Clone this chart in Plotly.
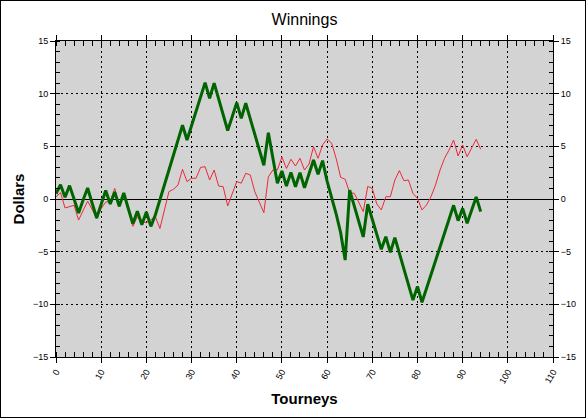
import plotly.graph_objects as go

# Winnings per tourney
tourneys = list(range(95))

green_series = [
    0.5, 1.36, 0.16, 1.27, 0.0, -1.33, -0.1, 1.04, -0.4, -1.8,
    -0.5, 0.8, -0.47, 0.66, -0.7, 0.57, -0.9, -2.34, -1.17, -2.44,
    -1.23, -2.6, -1.5, -0.1, 1.3, 2.7, 4.1, 5.6, 7.0, 5.6,
    7.0, 8.4, 9.7, 11.05, 9.56, 11.0, 9.5, 8.0, 6.5, 7.8,
    9.15, 7.66, 9.09, 7.6, 6.1, 4.6, 3.2, 6.3, 3.9, 1.5,
    2.66, 1.23, 2.53, 1.17, 2.5, 1.07, 2.4, 3.7, 2.34, 3.64,
    1.7, 0.2, -1.4, -3.2, -5.8, 0.85, -0.6, -2.1, -3.6, -0.5,
    -1.9, -3.4, -4.78, -3.58, -5.07, -3.67, -5.1, -6.6, -8.1, -9.6,
    -8.3, -9.8, -8.5, -7.2, -5.9, -4.6, -3.2, -1.9, -0.6, -2.06,
    -0.89, -2.3, -1.0, 0.2, -1.2,
]

red_series = [
    0.2, 0.6, -0.85, -0.75, -0.6, -2.0, -1.1, -0.2, -1.0, -1.84,
    -0.9, -0.3, -0.2, 1.0, -0.73, 0.38, -1.1, -2.6, -1.68, -2.15,
    -2.25, -2.0, -1.68, -2.8, -1.0, 0.7, 0.92, 1.33, 2.82, 1.65,
    1.97, 1.97, 3.0, 3.07, 1.8, 2.75, 1.23, 1.17, -0.66, 0.5,
    1.65, 1.5, 2.44, 2.28, 0.7, -0.3, -1.3, 2.1, 2.75, 2.75,
    4.0, 2.9, 3.77, 3.13, 3.86, 2.75, 3.32, 4.97, 3.86, 5.13,
    5.7, 5.3, 3.86, 2.06, 1.87, 0.6, 0.54, -0.3, -1.2, 1.2,
    1.0, -0.47, -1.04, 0.22, 0.22, 1.8, 2.69, 1.74, 1.8, 0.54,
    0.06, -1.04, -0.57, 0.22, 1.33, 2.75, 3.86, 4.65, 5.6, 4.08,
    5.13, 4.02, 4.8, 5.67, 4.72,
]

x_ticks = list(range(0, 111, 10))
y_ticks = list(range(-15, 16, 5))

FONT = "Liberation Sans, Arial, sans-serif"
W, H = 586, 418
M = dict(l=56, r=33, t=41, b=61)

fig = go.Figure()
fig.add_trace(go.Scatter(x=tourneys, y=red_series, mode="lines",
                         line=dict(color="#ee2838", width=1), showlegend=False))
fig.add_trace(go.Scatter(x=tourneys, y=green_series, mode="lines",
                         line=dict(color="#006400", width=3), showlegend=False))
# invisible trace so the right axis gets drawn
fig.add_trace(go.Scatter(x=[None], y=[None], yaxis="y2", showlegend=False, hoverinfo="skip"))

axis_common = dict(
    showline=True, linecolor="black", linewidth=1, automargin=False,
    ticks="outside", ticklen=5, tickcolor="black",
    tickfont=dict(family=FONT, size=9, color="black"),
    showgrid=True, gridcolor="black", griddash="2px,3px", gridwidth=1,
)

fig.update_layout(
    width=W, height=H,
    margin=M,
    paper_bgcolor="white",
    plot_bgcolor="#d3d3d3",
    title=dict(text="Winnings", x=0.5, xref="paper", y=1 - 19 / H, yref="container",
               yanchor="middle", font=dict(family=FONT, size=16, color="black")),
    xaxis=dict(**axis_common, range=[0, 110], tickvals=x_ticks, tickangle=-60,
               mirror="allticks", zeroline=False,
               minor=dict(dtick=2, ticks="inside", ticklen=4, tickcolor="black", showgrid=False),
               title=dict(text="<b>Tourneys</b>", standoff=8,
                          font=dict(family=FONT, size=15, color="black"))),
    yaxis=dict(**axis_common, range=[-15, 15], tickvals=y_ticks,
               zeroline=True, zerolinecolor="black", zerolinewidth=1,
               minor=dict(dtick=1, ticks="inside", ticklen=4, tickcolor="black", showgrid=False),
               title=dict(text="<b>Dollars</b>", standoff=4,
                          font=dict(family=FONT, size=15, color="black"))),
    yaxis2=dict(overlaying="y", side="right", range=[-15, 15], tickvals=y_ticks,
                showline=True, linecolor="black", linewidth=1, automargin=False,
                ticks="outside", ticklen=5, tickcolor="black", showgrid=False, zeroline=False,
                tickfont=dict(family=FONT, size=9, color="black"),
                minor=dict(dtick=1, ticks="inside", ticklen=4, tickcolor="black")),
)

# black frame round the whole picture
pw = W - M["l"] - M["r"]
ph = H - M["t"] - M["b"]
fig.add_shape(type="rect", xref="paper", yref="paper",
              x0=-M["l"] / pw, x1=(pw + M["r"]) / pw,
              y0=-M["b"] / ph, y1=(ph + M["t"]) / ph,
              line=dict(color="black", width=2), fillcolor="rgba(0,0,0,0)")

# drop the page's default body margin so the chart sits at 0,0
fig.write_html("out.html", config={"displayModeBar": False},
               post_script="document.body.style.margin='0';")
